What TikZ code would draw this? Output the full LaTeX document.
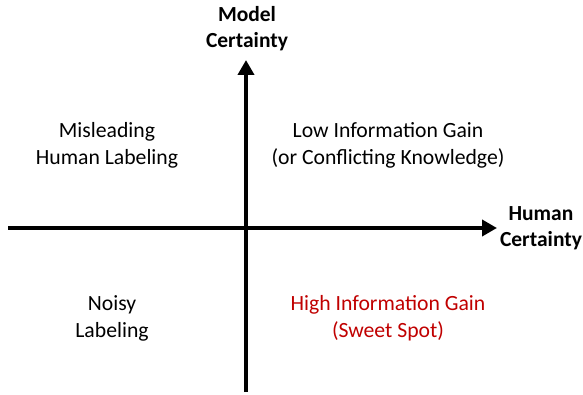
\documentclass[tikz,border=0pt]{standalone}
\usepackage{fontspec}
\setmainfont{Carlito}
\usetikzlibrary{arrows.meta}
\definecolor{sweetred}{RGB}{192,0,0}
\begin{document}
\begin{tikzpicture}[x=1pt,y=-1pt,
  axis/.style={line width=4pt,-{Triangle[width=16pt,length=15pt]}},
  quad/.style={align=center,font=\fontsize{21.7}{27}\selectfont,inner sep=0pt},
  axlabel/.style={align=center,font=\fontsize{21.5}{26}\selectfont\bfseries,inner sep=0pt}]
\useasboundingbox (0,0) rectangle (583,395);
\coordinate (vb) at (246,392);
\coordinate (vt) at (246,60);
\coordinate (hl) at (8,228);
\coordinate (hr) at (497,228);
\draw[axis] (vb) -- (vt);
\draw[axis] (hl) -- (hr);
\node[axlabel] (ylab) at (247,29) {Model\\Certainty};
\node[axlabel] (xlab) at (541,228) {Human\\Certainty};
\node[quad] (q2) at (107,145) {Misleading\\Human Labeling};
\node[quad] (q1) at (388,145) {Low Information Gain\\(or Conflicting Knowledge)};
\node[quad] (q3) at (112,318) {Noisy\\Labeling};
\node[quad,text=sweetred] (q4) at (388,318) {High Information Gain\\(Sweet Spot)};
\end{tikzpicture}
\end{document}
